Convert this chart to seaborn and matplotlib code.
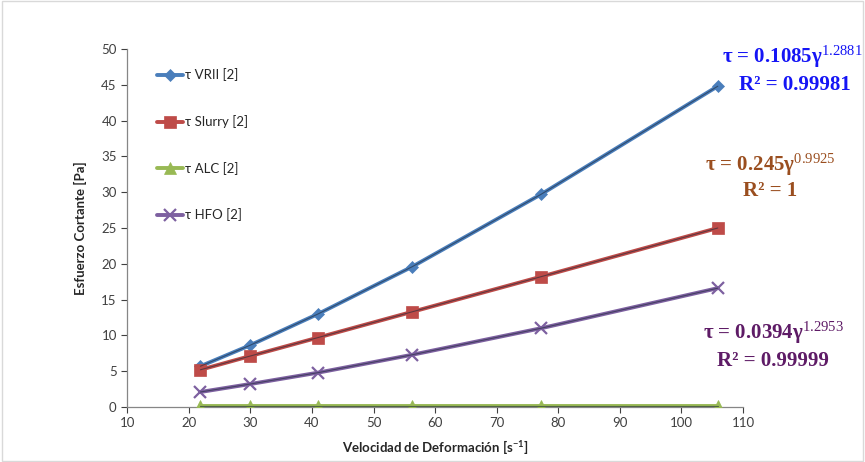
import numpy as np
import pandas as pd
import matplotlib
matplotlib.use("Agg")
import matplotlib.pyplot as plt
import seaborn as sns

# Data
shear_rate = [21.9, 29.9, 41.0, 56.3, 77.2, 105.9]
vrii = [5.7, 8.6, 13.0, 19.6, 29.7, 44.8]
slurry = [5.2, 7.1, 9.7, 13.3, 18.2, 25.0]
alc = [0.1, 0.1, 0.1, 0.1, 0.1, 0.1]
hfo = [2.1, 3.2, 4.8, 7.3, 11.0, 16.6]
series_names = ["τ VRII [2]", "τ Slurry [2]", "τ ALC [2]", "τ HFO [2]"]
x_ticks = [10, 20, 30, 40, 50, 60, 70, 80, 90, 100, 110]
y_ticks = [0, 5, 10, 15, 20, 25, 30, 35, 40, 45, 50]

sns.set_style("white")
plt.rcParams["font.family"] = ["Lato", "DejaVu Sans"]
plt.rcParams["mathtext.fontset"] = "custom"
plt.rcParams["mathtext.rm"] = "Liberation Serif"
plt.rcParams["mathtext.it"] = "Liberation Serif"

frames = []
for name, vals in zip(series_names, [vrii, slurry, alc, hfo]):
    frames.append(pd.DataFrame({"x": shear_rate, "y": vals, "serie": name}))
df = pd.concat(frames, ignore_index=True)

colors = ["#4A7EBB", "#BE4B48", "#98B954", "#7D60A0"]
markers = ["D", "s", "^", "x"]
msizes = [6, 8, 8, 8]

fig = plt.figure(figsize=(8.65, 4.62), dpi=100)
ax = fig.add_axes([0.147, 0.119, 0.712, 0.775])

for name, c, m, ms in zip(series_names, colors, markers, msizes):
    sub = df[df["serie"] == name]
    sns.lineplot(data=sub, x="x", y="y", ax=ax, color=c, marker=m,
                 markersize=ms, linewidth=2.8, label=name,
                 markeredgecolor=c, markeredgewidth=1.6 if m == "x" else 0.5,
                 zorder=3)
    # trendline overlay
    sns.lineplot(data=sub, x="x", y="y", ax=ax, color="#1f2a3a", linewidth=0.8,
                 alpha=0.6, legend=False, zorder=4)

ax.set_xlim(10, 110)
ax.set_ylim(0, 50)
ax.set_xticks(x_ticks)
ax.set_yticks(y_ticks)
ax.tick_params(axis="both", labelsize=9.5, colors="#404040", length=4,
               direction="out", left=True, bottom=True)
for s in ["top", "right"]:
    ax.spines[s].set_visible(False)
for s in ["left", "bottom"]:
    ax.spines[s].set_color("#868686")
    ax.spines[s].set_linewidth(0.9)

ax.set_xlabel("Velocidad de Deformación [s$^{\\mathregular{-1}}$]", fontsize=9.5,
              fontweight="bold", color="#262626", labelpad=6)
ax.set_ylabel("Esfuerzo Cortante [Pa]", fontsize=9.5, fontweight="bold",
              color="#262626", labelpad=10)

leg = ax.legend(loc="upper left", bbox_to_anchor=(0.04, 0.96), frameon=False,
                fontsize=9.5, labelspacing=2.55, handlelength=2.0, handletextpad=0.1,
                borderaxespad=0)
for t in leg.get_texts():
    t.set_color("#262626")

serif = ["Liberation Serif", "DejaVu Serif"]
fs = 15
fig.text(792 / 865, 1 - 57 / 462, "τ = 0.1085γ$^{1.2881}$", ha="center", va="center",
         fontsize=fs, fontweight="bold", color="#1515F5", family=serif)
fig.text(795 / 865, 1 - 85 / 462, "R² = 0.99981", ha="center", va="center",
         fontsize=fs, fontweight="bold", color="#1515F5", family=serif)
fig.text(770 / 865, 1 - 165 / 462, "τ = 0.245γ$^{0.9925}$", ha="center", va="center",
         fontsize=fs, fontweight="bold", color="#9A4E1F", family=serif)
fig.text(770 / 865, 1 - 191 / 462, "R² = 1", ha="center", va="center",
         fontsize=fs, fontweight="bold", color="#9A4E1F", family=serif)
fig.text(773 / 865, 1 - 333 / 462, "τ = 0.0394γ$^{1.2953}$", ha="center", va="center",
         fontsize=fs, fontweight="bold", color="#5E1B66", family=serif)
fig.text(773 / 865, 1 - 361 / 462, "R² = 0.99999", ha="center", va="center",
         fontsize=fs, fontweight="bold", color="#5E1B66", family=serif)

fig.patches.append(plt.Rectangle((0.002, 0.003), 0.996, 0.994, transform=fig.transFigure,
                                 fill=False, edgecolor="#d9d9d9", linewidth=1))

fig.savefig("out.png", dpi=100)
